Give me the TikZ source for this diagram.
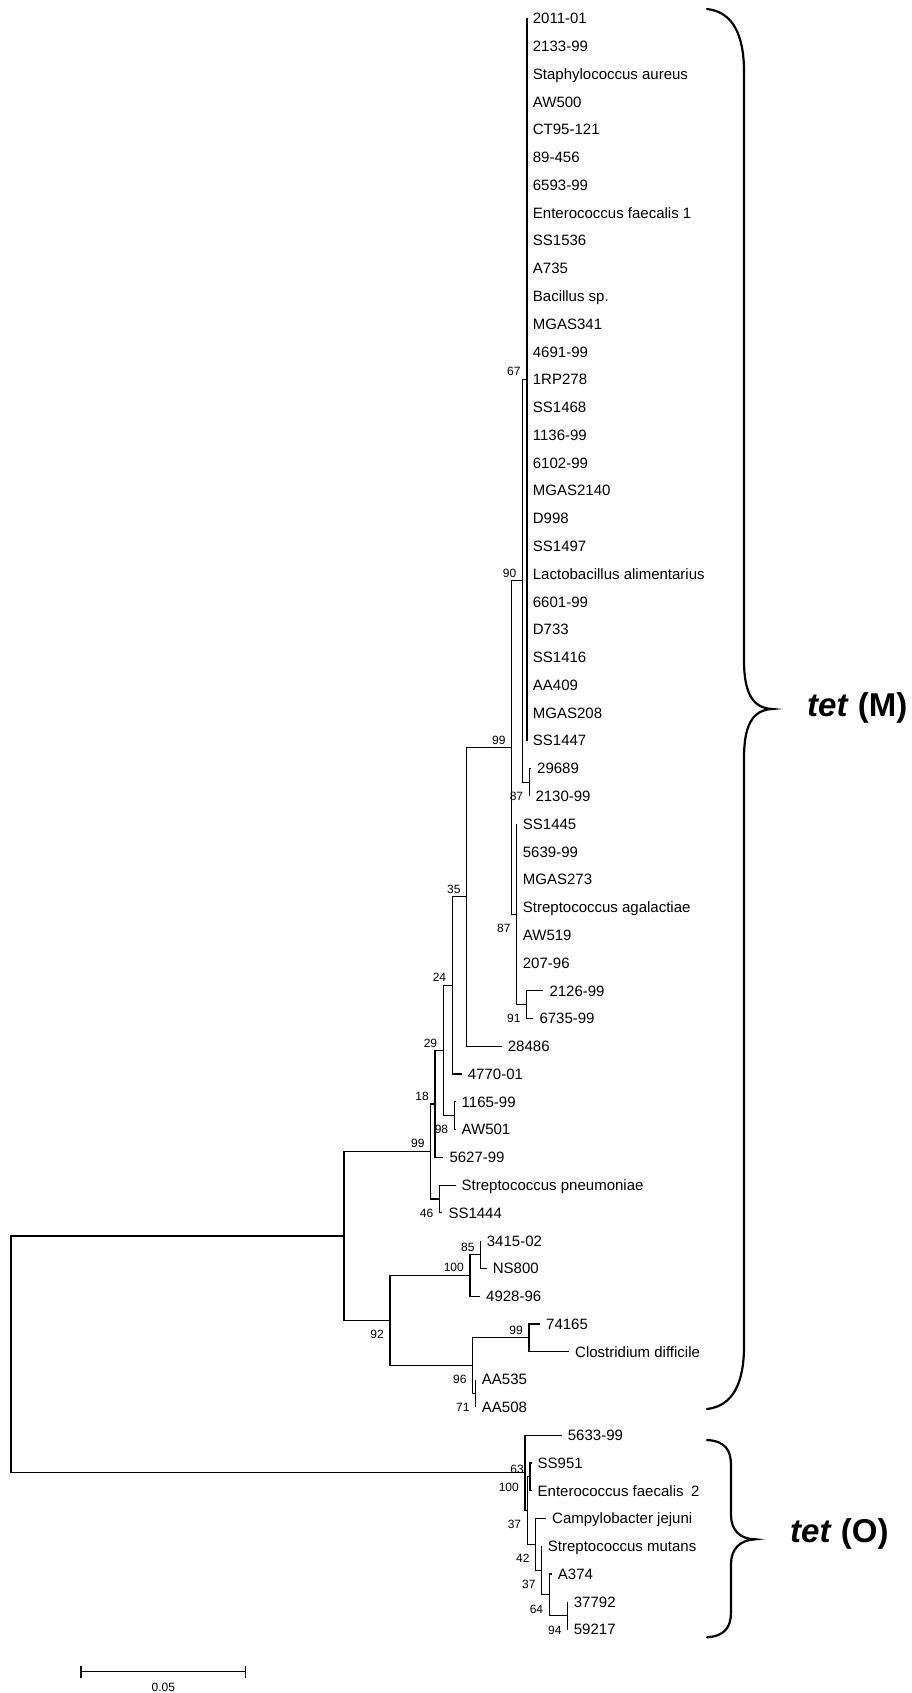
\documentclass[tikz,border=0pt]{standalone}
\usepackage{fontspec}
\setmainfont{Liberation Sans}
\usetikzlibrary{calc}
\newcommand\leafat[4]{\coordinate (#1) at (#2,#3); \node[leaflabel] (#1l) at ($(#1)+(6,0)$) {#4};}
\newcommand\bsup[3]{\node[bsabove] (#1) at ($(#2)+(-6,-3.5)$) {#3};}
\newcommand\bsdown[3]{\node[bsbelow] (#1) at ($(#2)+(-6,18.3)$) {#3};}
\begin{document}
\begin{tikzpicture}[x=1pt,y=-1pt,
  br/.style={line width=1.15pt, line join=miter},
  leaflabel/.style={font=\fontsize{15}{15}\selectfont, anchor=west, inner sep=0pt, text height=10.7pt, text depth=0pt},
  bsabove/.style={font=\fontsize{12}{12}\selectfont, anchor=base east, inner sep=0pt},
  bsbelow/.style={font=\fontsize{12}{12}\selectfont, anchor=base east, inner sep=0pt},
  bracestroke/.style={line width=2.2pt, line cap=round},
  genelabel/.style={font=\fontsize{33}{33}\selectfont\bfseries, anchor=west, inner sep=0pt}]
\useasboundingbox (0,0) rectangle (912,1693);

% internal nodes
\coordinate (root) at (11,1354.45);
\coordinate (nA) at (344,1236.0);
\coordinate (n99a) at (430.7,1151.47);
\coordinate (n18) at (435,1103.94);
\coordinate (n29) at (443.3,1050.55);
\coordinate (n24) at (452.3,985.44);
\coordinate (n35) at (466.7,896.9);
\coordinate (n99b) at (511.7,747.58);
\coordinate (n90) at (522.5,580.9);
\coordinate (n67) at (526.7,379.49);
\coordinate (n87a) at (529.3,782.3);
\coordinate (n87b) at (516.7,914.26);
\coordinate (n91) at (526.7,1004.54);
\coordinate (n98) at (454.3,1115.66);
\coordinate (n46) at (439.5,1199.0);
\coordinate (n92) at (390,1320.54);
\coordinate (n100a) at (470,1275.4);
\coordinate (n85) at (480.7,1254.56);
\coordinate (n96) at (472.7,1365.68);
\coordinate (n99c) at (529,1337.9);
\coordinate (n71) at (475.7,1393.46);
\coordinate (n100b) at (525,1472.9);
\coordinate (n37a) at (527.3,1510.66);
\coordinate (n63) at (530,1476.8);
\coordinate (n42) at (535.7,1544.52);
\coordinate (n37b) at (541.7,1570.56);
\coordinate (n64) at (549.3,1594.87);
\coordinate (n94) at (567.7,1615.7);

% leaves
\leafat{t1}{526.7}{18.35}{2011-01}
\leafat{t2}{526.7}{46.13}{2133-99}
\leafat{t3}{526.7}{73.91}{Staphylococcus aureus}
\leafat{t4}{526.7}{101.69}{AW500}
\leafat{t5}{526.7}{129.47}{CT95-121}
\leafat{t6}{526.7}{157.25}{89-456}
\leafat{t7}{526.7}{185.03}{6593-99}
\leafat{t8}{526.7}{212.81}{Enterococcus faecalis 1}
\leafat{t9}{526.7}{240.59}{SS1536}
\leafat{t10}{526.7}{268.37}{A735}
\leafat{t11}{526.7}{296.15}{Bacillus sp.}
\leafat{t12}{526.7}{323.93}{MGAS341}
\leafat{t13}{526.7}{351.71}{4691-99}
\leafat{t14}{526.7}{379.49}{1RP278}
\leafat{t15}{526.7}{407.27}{SS1468}
\leafat{t16}{526.7}{435.05}{1136-99}
\leafat{t17}{526.7}{462.83}{6102-99}
\leafat{t18}{526.7}{490.61}{MGAS2140}
\leafat{t19}{526.7}{518.39}{D998}
\leafat{t20}{526.7}{546.17}{SS1497}
\leafat{t21}{526.7}{573.95}{Lactobacillus alimentarius}
\leafat{t22}{526.7}{601.73}{6601-99}
\leafat{t23}{526.7}{629.51}{D733}
\leafat{t24}{526.7}{657.29}{SS1416}
\leafat{t25}{526.7}{685.07}{AA409}
\leafat{t26}{526.7}{712.85}{MGAS208}
\leafat{t27}{526.7}{740.63}{SS1447}
\leafat{t28}{531}{768.41}{29689}
\leafat{t29}{529.3}{796.19}{2130-99}
\leafat{t30}{516.7}{823.97}{SS1445}
\leafat{t31}{516.7}{851.75}{5639-99}
\leafat{t32}{516.7}{879.53}{MGAS273}
\leafat{t33}{516.7}{907.31}{Streptococcus agalactiae}
\leafat{t34}{516.7}{935.09}{AW519}
\leafat{t35}{516.7}{962.87}{207-96}
\leafat{t36}{543.3}{990.65}{2126-99}
\leafat{t37}{533.3}{1018.43}{6735-99}
\leafat{t38}{501.7}{1046.21}{28486}
\leafat{t39}{461.7}{1073.99}{4770-01}
\leafat{t40}{455.5}{1101.77}{1165-99}
\leafat{t41}{455.5}{1129.55}{AW501}
\leafat{t42}{443.3}{1157.33}{5627-99}
\leafat{t43}{455.5}{1185.11}{Streptococcus pneumoniae}
\leafat{t44}{442.3}{1212.89}{SS1444}
\leafat{t45}{480.7}{1240.67}{3415-02}
\leafat{t46}{486.7}{1268.45}{NS800}
\leafat{t47}{480}{1296.23}{4928-96}
\leafat{t48}{540}{1324.01}{74165}
\leafat{t49}{569}{1351.79}{Clostridium difficile}
\leafat{t50}{475.7}{1379.57}{AA535}
\leafat{t51}{475.7}{1407.35}{AA508}
\leafat{t52}{561.7}{1435.13}{5633-99}
\leafat{t53}{531.5}{1462.91}{SS951}
\leafat{t54}{531.5}{1490.69}{Enterococcus faecalis\enspace 2}
\leafat{t55}{546}{1518.47}{Campylobacter jejuni}
\leafat{t56}{541.7}{1546.25}{Streptococcus mutans}
\leafat{t57}{551.7}{1574.03}{A374}
\leafat{t58}{567.7}{1601.81}{37792}
\leafat{t59}{567.7}{1629.59}{59217}

% branches
\draw[br] (root) |- (nA);
\draw[br] (root) |- (n100b);
\draw[br] (nA) |- (n99a);
\draw[br] (nA) |- (n92);
\draw[br] (n99a) |- (n18);
\draw[br] (n99a) |- (n46);
\draw[br] (n18) |- (n29);
\draw[br] (n18) |- (t42);
\draw[br] (n29) |- (n24);
\draw[br] (n29) |- (n98);
\draw[br] (n24) |- (n35);
\draw[br] (n24) |- (t39);
\draw[br] (n35) |- (n99b);
\draw[br] (n35) |- (t38);
\draw[br] (n99b) |- (n90);
\draw[br] (n99b) |- (n87b);
\draw[br] (n90) |- (n67);
\draw[br] (n90) |- (n87a);
\foreach \i in {1,...,27} {\draw[br] (n67) |- (t\i);}
\draw[br, line width=1.8pt] (t1) -- (t27);
\draw[br] (n87a) |- (t28);
\draw[br] (n87a) |- (t29);
\foreach \i in {30,...,35} {\draw[br] (n87b) |- (t\i);}
\draw[br] (n87b) |- (n91);
\draw[br] (n91) |- (t36);
\draw[br] (n91) |- (t37);
\draw[br] (n98) |- (t40);
\draw[br] (n98) |- (t41);
\draw[br] (n46) |- (t43);
\draw[br] (n46) |- (t44);
\draw[br] (n92) |- (n100a);
\draw[br] (n92) |- (n96);
\draw[br] (n100a) |- (n85);
\draw[br] (n100a) |- (t47);
\draw[br] (n85) |- (t45);
\draw[br] (n85) |- (t46);
\draw[br] (n96) |- (n99c);
\draw[br] (n96) |- (n71);
\draw[br] (n99c) |- (t48);
\draw[br] (n99c) |- (t49);
\draw[br] (n71) |- (t50);
\draw[br] (n71) |- (t51);
\draw[br] (n100b) |- (t52);
\draw[br] (n100b) |- (n37a);
\draw[br] (n37a) |- (n63);
\draw[br] (n37a) |- (n42);
\draw[br] (n63) |- (t53);
\draw[br] (n63) |- (t54);
\draw[br] (n42) |- (t55);
\draw[br] (n42) |- (n37b);
\draw[br] (n37b) |- (t56);
\draw[br] (n37b) |- (n64);
\draw[br] (n64) |- (t57);
\draw[br] (n64) |- (n94);
\draw[br] (n94) |- (t58);
\draw[br] (n94) |- (t59);

% bootstrap values
\bsup{b67}{n67}{67}
\bsup{b90}{n90}{90}
\bsup{b99b}{n99b}{99}
\bsdown{b87a}{n87a}{87}
\bsdown{b87b}{n87b}{87}
\bsdown{b91}{n91}{91}
\bsup{b35}{n35}{35}
\bsup{b24}{n24}{24}
\bsup{b29}{n29}{29}
\bsup{b18}{n18}{18}
\bsdown{b98}{n98}{98}
\bsup{b99a}{n99a}{99}
\bsdown{b46}{n46}{46}
\bsup{b100a}{n100a}{100}
\bsup{b85}{n85}{85}
\bsdown{b92}{n92}{92}
\bsup{b99c}{n99c}{99}
\bsdown{b96}{n96}{96}
\bsdown{b71}{n71}{71}
\bsdown{b100b}{n100b}{100}
\bsup{b63}{n63}{63}
\bsdown{b37a}{n37a}{37}
\bsdown{b42}{n42}{42}
\bsdown{b37b}{n37b}{37}
\bsdown{b64}{n64}{64}
\bsdown{b94}{n94}{94}

% braces
\draw[bracestroke] (707,9) .. controls (733,12) and (744,35) .. (744,72) -- (744,660)
  .. controls (744,692) and (752,708) .. (772,709)
  .. controls (752,710) and (744,726) .. (744,758) -- (744,1346)
  .. controls (744,1383) and (733,1406) .. (707,1409);
\node[genelabel] (tetM) at (807,708) {\textit{tet} (M)};
\draw[bracestroke] (707,1440) .. controls (725,1441) and (731,1450) .. (731,1465) -- (731,1515)
  .. controls (731,1530) and (740,1539) .. (755,1539.3)
  .. controls (740,1540) and (731,1549) .. (731,1564) -- (731,1612)
  .. controls (731,1627) and (725,1636) .. (707,1637.3);
\node[genelabel] (tetO) at (790,1534) {\textit{tet} (O)};

% scale bar
\coordinate (sbL) at (81,1671.7);
\coordinate (sbR) at (245.7,1671.7);
\draw[line width=1.4pt] (sbL) -- (sbR);
\draw[line width=1.4pt] ($(sbL)+(0,-6)$) -- ($(sbL)+(0,6)$);
\draw[line width=1.4pt] ($(sbR)+(0,-6)$) -- ($(sbR)+(0,6)$);
\node[font=\fontsize{12}{12}\selectfont, inner sep=0pt] (sbtext) at ($(sbL)!0.5!(sbR)+(0,16)$) {0.05};
\end{tikzpicture}
\end{document}
